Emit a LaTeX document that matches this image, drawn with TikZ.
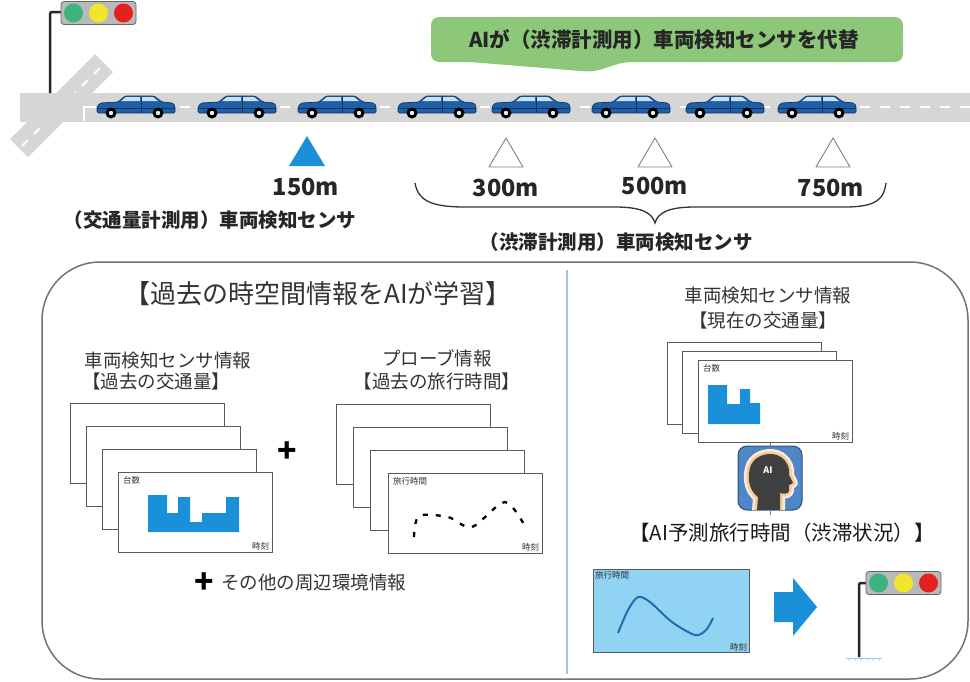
\documentclass[tikz,border=0pt]{standalone}
\usepackage{fontspec}
\setmainfont{Noto Sans CJK JP}
\usetikzlibrary{positioning}

\definecolor{roadgray}{HTML}{D6D6D6}
\definecolor{bannergreen}{HTML}{8DC87A}
\definecolor{inkgray}{HTML}{333333}
\definecolor{framegray}{HTML}{5A5A5A}
\definecolor{barblue}{HTML}{1A90D8}
\definecolor{carblue}{HTML}{1F5FA8}
\definecolor{cardark}{HTML}{12345F}
\definecolor{glassblue}{HTML}{C9E0F2}
\definecolor{skyblue}{HTML}{90D3F3}
\definecolor{curveblue}{HTML}{1E6DB0}
\definecolor{lineblue}{HTML}{9DC3E6}
\definecolor{lampgreen}{HTML}{3DB37F}
\definecolor{lampyellow}{HTML}{F2E52E}
\definecolor{lampred}{HTML}{E3221F}
\definecolor{iconblue}{HTML}{4F86C8}
\definecolor{peach}{HTML}{F6C99C}

\tikzset{
  jp/.style={inner sep=0pt, text=inkgray, font=\fontsize{18.5}{20}\selectfont},
  jpbold/.style={inner sep=0pt, text=black!85, font=\bfseries\fontsize{19.5}{21}\selectfont},
  dist/.style={inner sep=0pt, text=black!85, font=\bfseries\fontsize{23.5}{24}\selectfont},
  tiny/.style={inner sep=0pt, text=inkgray, font=\fontsize{8.5}{9}\selectfont},
  plussign/.style={inner sep=0pt, text=black, font=\bfseries\fontsize{32}{32}\selectfont},
  card/.style={draw=framegray, line width=1.3pt, fill=white, minimum width=154pt,
    minimum height=80pt, inner sep=0pt, anchor=north west},
  sensor/.style={draw=gray, line width=0.9pt, fill=white, line join=round},
  car/.pic={
    \fill[carblue, draw=cardark, line width=0.7pt, rounded corners=1.5pt]
      (-39,6) -- (-39,0) -- (-36,-4) -- (-18,-5) -- (-11,-11) -- (18,-11)
      -- (26,-5) -- (37,-4) -- (39,-1) -- (39,6) -- cycle;
    \fill[glassblue] (-15,-6) -- (-10,-10) -- (4,-10) -- (4,-6) -- cycle;
    \fill[glassblue] (6,-10) -- (17,-10) -- (22,-6) -- (6,-6) -- cycle;
    \draw[cardark, line width=0.5pt] (5,-10) -- (5,6) (-39,1) -- (39,1);
    \foreach \w in {-25,22} {
      \fill[black] (\w,6) circle (5.5);
      \fill[white!85!gray] (\w,6) circle (2.2);
    }
  },
  lamps/.pic={
    \fill[gray!55, draw=gray!80!black, line width=0.8pt, rounded corners=3pt]
      (0,-11.5) rectangle (75,11.5);
    \fill[lampgreen] (12.5,0) circle (9.5);
    \fill[lampyellow] (37.5,0) circle (9.5);
    \fill[lampred] (62.5,0) circle (9.5);
  }
}

\begin{document}
\begin{tikzpicture}[x=1pt,y=-1pt]
\def\HEADPATH{(757,511) -- (758,497) .. controls (748,490) and (747,475) .. (751,465)
  .. controls (756,454) and (772,451) .. (781,457) .. controls (788,462) and (790,469) .. (789,475)
  -- (793,483) -- (789,485) -- (789,491) .. controls (788,494) and (784,494) .. (780,493)
  -- (780,511) -- cycle}
	\useasboundingbox (0,0) rectangle (970,681);

	% road with crossing
	\fill[roadgray] (10,139) -- (95,54) -- (113,72) -- (28,157) -- cycle;
	\draw[white, line width=1.8pt, dash pattern=on 8pt off 9pt] (22,146) -- (104,64);
	\fill[roadgray] (20,93) rectangle (970,122);
	\draw[white, line width=2pt, dash pattern=on 10pt off 10pt] (100,107) -- (970,107);
	\draw[white, line width=1.8pt] (96,107) -- (84,107) -- (84,121);

	% signal at the crossing
	\draw[line width=2.5pt, black!85, rounded corners=2pt] (50,93) -- (50,12) -- (62,12);
	\pic at (61,13) {lamps};

	\foreach \cx in {136,237,337,437,531,631,725,817}
		\pic at (\cx,107) {car};

	% green callout
	\fill[bannergreen, rounded corners=8pt] (431,17) -- (903,17) -- (903,62) -- (624,62)
		-- (593,72) -- (470,62) -- (431,62) -- cycle;
	\node[inner sep=0pt, text=black!85, font=\bfseries\fontsize{20.5}{22}\selectfont] (banner)
		at (664,40) {AIが（渋滞計測用）車両検知センサを代替};

	% sensors
	\fill[barblue] (289,166) -- (325,166) -- (307,136) -- cycle;
	\foreach \sx in {506,655,833}
		\draw[sensor] (\sx-17,167) -- (\sx+17,167) -- (\sx,138) -- cycle;
	\node[dist] (d150) at (306,187) {150m};
	\node[dist] (d300) at (506,188) {300m};
	\node[dist] (d500) at (655,186) {500m};
	\node[dist] (d750) at (831,188) {750m};
	\node[jpbold] (volsensor) at (210,220) {（交通量計測用）車両検知センサ};
	\draw[black!80, line width=1.3pt] (415,183) .. controls (418,200) and (430,207) .. (465,207)
		-- (615,207) .. controls (640,207) and (652,212) .. (655,223)
		.. controls (658,212) and (670,207) .. (695,207) -- (845,207)
		.. controls (878,207) and (884,198) .. (886,183);
	\node[jpbold] (jamsensor) at (616,242) {（渋滞計測用）車両検知センサ};

	% lower panel
	\draw[framegray!85, line width=1.5pt, rounded corners=58pt] (42,262) rectangle (968,679);
	\draw[lineblue, line width=2pt] (567,270) -- (567,674);

	% learning side
	\node[jp, font=\fontsize{26}{28}\selectfont] (learn) at (318,294) {【過去の時空間情報をAIが学習】};
	\node[jp] (pastinfo) at (168,360) {車両検知センサ情報};
	\node[jp] (pastvol) at (156,381) {【過去の交通量】};
	\node[jp] (probeinfo) at (437,358) {プローブ情報};
	\node[jp] (pasttime) at (437,381) {【過去の旅行時間】};

	\foreach \i/\x/\y in {1/70/403,2/86/426,3/102/449,4/118/472}
		\node[card] (vol\i) at (\x,\y) {};
	\node[tiny, below right=4pt and 5pt of vol4.north west] (volaxis) {台数};
	\node[tiny, above left=3pt and 4pt of vol4.south east] (voltime) {時刻};
	\fill[barblue] (148,532) -- (148,495) -- (167,495) -- (167,513) -- (178,513) -- (178,497)
		-- (190,497) -- (190,522) -- (202,522) -- (202,513) -- (226,513) -- (226,497)
		-- (239,497) -- (239,532) -- cycle;

	\node[plussign] (plusa) at (287,452) {+};

	\foreach \i/\x/\y in {1/336/404,2/353/427,3/370/450,4/388/473}
		\node[card] (probe\i) at (\x,\y) {};
	\node[tiny, below right=4pt and 5pt of probe4.north west] (probeaxis) {旅行時間};
	\node[tiny, above left=3pt and 4pt of probe4.south east] (probetime) {時刻};
	\draw[black, line width=2.3pt, dash pattern=on 5pt off 8pt] plot[smooth]
		coordinates {(414,537) (419,516) (448,517) (472,527) (505,502) (526,528)};

	\node[plussign] (plusb) at (204,583) {+};
	\node[jp, right=7pt of plusb] (others) {その他の周辺環境情報};

	% prediction side
	\node[jp] (nowinfo) at (768,295) {車両検知センサ情報};
	\node[jp] (nowvol) at (763,320) {【現在の交通量】};
	\foreach \i/\x/\y in {1/667/342,2/682/351,3/698/360}
		\node[card, minimum height=82pt] (now\i) at (\x,\y) {};
	\node[tiny, below right=4pt and 5pt of now3.north west] (nowaxis) {台数};
	\node[tiny, above left=3pt and 4pt of now3.south east] (nowtime) {時刻};
	\fill[barblue] (708,424) -- (708,385) -- (727,385) -- (727,404) -- (740,404) -- (740,389)
		-- (750,389) -- (750,403) -- (760,403) -- (760,424) -- cycle;

	\node[draw=iconblue!60!black, line width=1pt, fill=iconblue, rounded corners=9pt,
		minimum size=64pt, inner sep=0pt] (aiicon) at (770,478) {};
	\begin{scope}
		\clip[rounded corners=9pt] (738,446) rectangle (802,510);
		\draw[peach!40, line width=10pt, line join=round] \HEADPATH;
		\draw[peach, line width=5pt, line join=round] \HEADPATH;
		\fill[black!75] \HEADPATH;
	\end{scope}
	\node[text=white, inner sep=0pt, font=\bfseries\fontsize{9}{9}\selectfont] (aitext) at (768,470) {AI};
	\draw[barblue, line width=1pt] (aiicon.north) -- (aiicon.north |- now3.south);
	\coordinate (predtop) at (770,515);
	\draw[barblue, line width=1pt] (aiicon.south) -- (predtop);

	\node[jp, text=black!90, font=\fontsize{20.5}{22}\selectfont] (predtime) at (782,533)
		{【AI予測旅行時間（渋滞状況）】};
	\node[draw=framegray, line width=1.3pt, fill=skyblue, anchor=north west, minimum width=156pt,
		minimum height=83pt, inner sep=0pt] (predchart) at (593,569) {};
	\node[tiny, below right=2pt and 2pt of predchart.north west] (predaxis) {旅行時間};
	\node[tiny, above left=2pt and 3pt of predchart.south east] (predclock) {時刻};
	\draw[curveblue, line width=2pt] plot[smooth]
		coordinates {(618,633) (628,610) (638,597) (650,602) (672,622) (695,635) (706,630) (713,618)};

	\fill[barblue] (774,592) -- (793,592) -- (793,578) -- (817,607) -- (793,636) -- (793,622)
		-- (774,622) -- cycle;

	% signal after prediction
	\draw[lineblue, line width=1pt] (846,658) -- (882,658);
	\foreach \g in {848,854,...,878}
		\draw[lineblue!80, line width=0.6pt] (\g,658) -- (\g+2,661);
	\draw[line width=2.5pt, black!85, rounded corners=2pt] (859,657) -- (859,583) -- (868,583);
	\pic at (866,583) {lamps};

\end{tikzpicture}
\end{document}
